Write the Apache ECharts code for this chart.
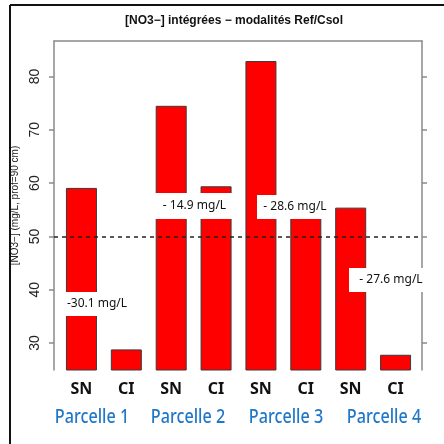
<!DOCTYPE html>
<html>
<head>
<meta charset="utf-8">
<script src="https://cdn.jsdelivr.net/npm/echarts@6/dist/echarts.min.js"></script>
<style>
  html, body { margin: 0; padding: 0; background: #fff; }
  #chart { width: 444px; height: 444px; }
</style>
</head>
<body>
<div id="chart"></div>
<script>
// data
const categories = ['SN', 'CI', 'SN', 'CI', 'SN', 'CI', 'SN', 'CI'];
const values = [59.1, 28.8, 74.5, 59.4, 82.9, 54.3, 55.4, 27.8];
const parcels = ['Parcelle 1', 'Parcelle 2', 'Parcelle 3', 'Parcelle 4'];
const deltas = ['-30.1 mg/L', '- 14.9 mg/L', '- 28.6 mg/L', '- 27.6 mg/L'];
const yTicks = [30, 40, 50, 60, 70, 80];
const threshold = 50;

const yMin = 24.94;
const yMax = 86.66;
const boxGrey = '#8a8a8a';

let chart = echarts.init(document.getElementById('chart'));

// white label boxes pasted over the bars
const deltaBoxes = [
  {x: 62, y: 292, w: 70, h: 24},
  {x: 153, y: 193, w: 83, h: 26},
  {x: 257, y: 195, w: 76, h: 24},
  {x: 349, y: 268, w: 84, h: 24}
];
const parcelX = [92, 188, 286, 384];

let graphics = [
  // outer frame (top + left only)
  {type: 'line', shape: {x1: 10, y1: 5, x2: 444, y2: 5}, style: {stroke: '#111', lineWidth: 2}, z: 100},
  {type: 'line', shape: {x1: 10, y1: 5, x2: 10, y2: 444}, style: {stroke: '#111', lineWidth: 2}, z: 100}
];
deltas.forEach((d, i) => {
  let b = deltaBoxes[i];
  graphics.push({type: 'rect', shape: {x: b.x, y: b.y, width: b.w, height: b.h}, style: {fill: '#fff'}, z: 100});
  graphics.push({
    type: 'text', x: b.x + b.w / 2, y: b.y + b.h / 2, z: 101,
    style: {text: d, fill: '#111', font: '12px "Noto Sans"', align: 'center', verticalAlign: 'middle'}
  });
});
parcels.forEach((p, i) => {
  // narrow the font a bit, the original looks condensed
  graphics.push({
    type: 'text', x: parcelX[i], y: 417, z: 101, scaleX: 0.81,
    style: {text: p, fill: '#1f77c8', font: '500 20px "Noto Sans"', align: 'center', verticalAlign: 'middle'}
  });
});

let option = {
  animation: false,
  backgroundColor: '#fff',
  title: {
    text: '[NO3\u2212] int\u00e9gr\u00e9es \u2212 modalit\u00e9s Ref/Csol',
    left: 229,
    textAlign: 'center',
    top: 10,
    textStyle: {fontFamily: 'Liberation Sans', fontSize: 12, fontWeight: 'bold', color: '#111'}
  },
  grid: [
    {left: 54, right: 22, top: 41, bottom: 74},
    {left: 59, right: 26, top: 41, bottom: 74}
  ],
  xAxis: [
    {
      gridIndex: 0, type: 'value', position: 'top', min: 0, max: 1,
      axisLine: {show: true, lineStyle: {color: boxGrey, width: 1.5}},
      axisTick: {show: false}, axisLabel: {show: false}, splitLine: {show: false}
    },
    {
      gridIndex: 1, type: 'category', data: categories,
      axisLine: {show: false}, axisTick: {show: false},
      axisLabel: {margin: 11, fontFamily: 'Noto Sans', fontSize: 16, fontWeight: 'bold', color: '#111'}
    }
  ],
  yAxis: [
    {
      gridIndex: 0, type: 'value', min: yMin, max: yMax,
      name: '[NO3\u2212] (mg/L, prof=90 cm)',
      nameLocation: 'middle', nameGap: 27,
      nameTextStyle: {fontFamily: 'Liberation Sans', fontSize: 10, color: '#222'},
      axisLine: {show: true, lineStyle: {color: boxGrey, width: 1.5}},
      axisTick: {show: true, length: 5, customValues: yTicks, lineStyle: {color: boxGrey, width: 1.5}},
      axisLabel: {customValues: yTicks, rotate: 90, margin: 12, fontFamily: 'Liberation Sans', fontSize: 14, color: '#222'},
      splitLine: {show: false}
    },
    {
      gridIndex: 0, type: 'value', position: 'right', min: yMin, max: yMax,
      axisLine: {show: true, lineStyle: {color: boxGrey, width: 1.5}},
      axisTick: {show: true, length: 5, customValues: yTicks, lineStyle: {color: boxGrey, width: 1.5}},
      axisLabel: {show: false},
      splitLine: {show: false}
    },
    {
      gridIndex: 1, type: 'value', min: yMin, max: yMax, show: false
    }
  ],
  series: [
    {
      type: 'bar',
      xAxisIndex: 1,
      yAxisIndex: 2,
      data: values,
      barWidth: 31,
      itemStyle: {color: '#ff0000', borderColor: '#3a3a3a', borderWidth: 1}
    },
    {
      type: 'line',
      xAxisIndex: 0,
      yAxisIndex: 0,
      data: [],
      markLine: {
        silent: true,
        symbol: 'none',
        label: {show: false},
        lineStyle: {color: '#222', type: [4, 4], width: 1.5},
        data: [{yAxis: threshold}]
      }
    }
  ],
  graphic: graphics
};

chart.setOption(option);
</script>
</body>
</html>
